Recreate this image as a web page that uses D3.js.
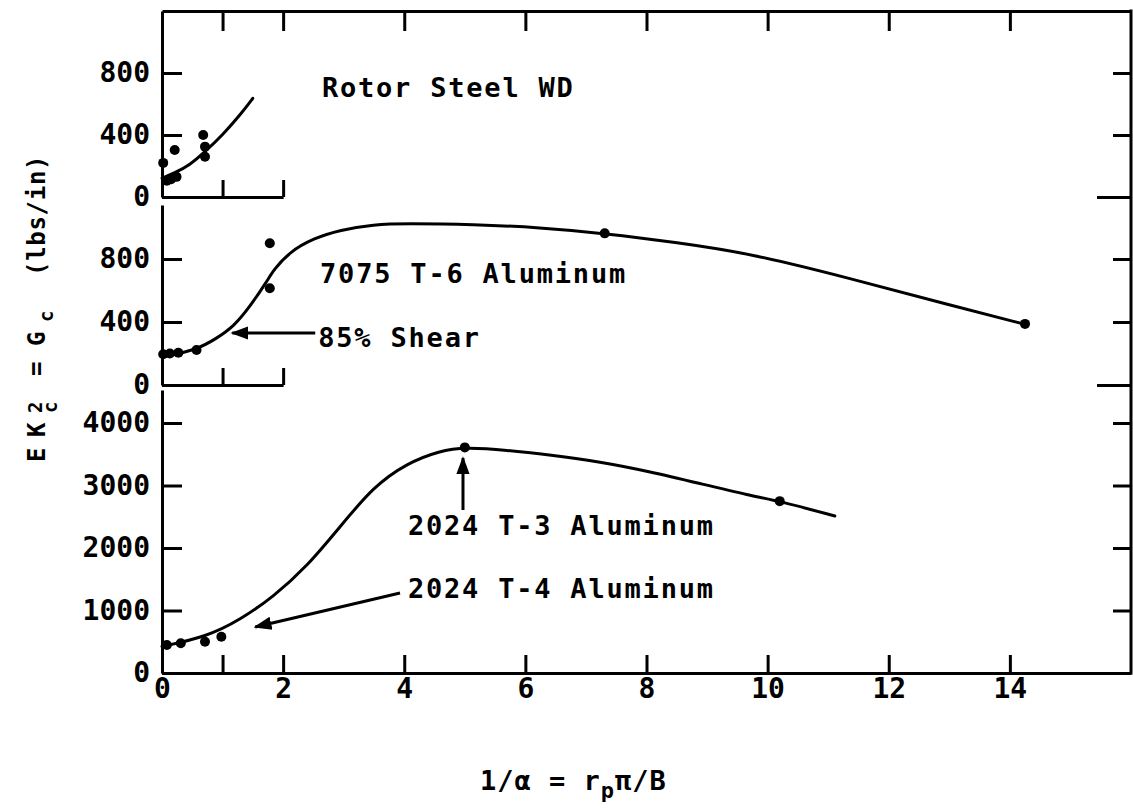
<!DOCTYPE html>
<html><head><meta charset="utf-8">
<script src="https://cdn.jsdelivr.net/npm/d3@7"></script>
<style>
html,body{margin:0;padding:0;background:#fff;}
svg{display:block;}
text{font-family:"DejaVu Sans Mono",monospace;font-weight:bold;fill:#000;}
</style></head><body>
<svg id="chart" width="1133" height="810"></svg>
<script>
// ---- data ----
const xTickValues = [0, 1, 2, 4, 6, 8, 10, 12, 14];
const xTickLabels = ["0", "", "2", "4", "6", "8", "10", "12", "14"];
const xTopTicks = [1, 2, 4, 6, 8, 10, 12, 14];
const smallBoxTicks = [1, 2];
const rotorTicks = [0, 400, 800];
const t6Ticks = [0, 400, 800];
const t3Ticks = [0, 1000, 2000, 3000, 4000];

const rotorDots = [[0.02,220],[0.08,105],[0.15,115],[0.24,130],[0.21,303],[0.68,400],[0.71,325],[0.71,260]];
const rotorCurve = [[0,122],[0.2,153],[0.46,206],[0.71,292],[1.0,400],[1.29,529],[1.5,637]];

const t6Dots = [[0.02,195],[0.13,200],[0.27,205],[0.57,222],[1.78,614],[1.78,900],[7.31,963],[14.25,388]];
const t6Curve = [[0,178],[0.57,222],[0.9,296],[1.18,370],[1.45,497],[1.73,656],[1.84,730],[2.11,846],[2.5,931],[2.94,984],[3.49,1020],[4.04,1026],[5.14,1020],[6.24,1000],[7.31,963],[8.5,905],[9.71,836],[11.36,677],[13.0,508],[14.25,385]];

const t3Dots = [[0.08,448],[0.31,475],[0.71,501],[0.98,581],[5.0,3610],[10.2,2750]];
const t3Curve = [[0,424],[0.74,581],[1.29,850],[1.84,1221],[2.39,1700],[2.94,2341],[3.49,2981],[4.04,3355],[4.59,3557],[5.0,3610],[5.69,3568],[6.41,3488],[7.23,3381],[8.06,3221],[8.88,3032],[9.71,2840],[10.2,2750],[11.11,2512]];

const labels = [
  {panel:"rotor", text:"Rotor Steel WD", x:2.64, y:645},
  {panel:"t6", text:"7075 T-6 Aluminum", x:2.61, y:648},
  {panel:"t6", text:"85% Shear", x:2.58, y:241},
  {panel:"t3", text:"2024 T-3 Aluminum", x:4.06, y:2208},
  {panel:"t3", text:"2024 T-4 Aluminum", x:4.06, y:1200}
];
const arrows = [
  {panel:"t6", from:[2.53,330], to:[1.16,330]},
  {panel:"t3", from:[4.97,2608], to:[4.97,3440]},
  {panel:"t3", from:[3.93,1280], to:[1.54,736]}
];

// ---- scales ----
const svg = d3.select("#chart");
const x = d3.scaleLinear().domain([0,16]).range([162,1131]);
const yS = {
  rotor: d3.scaleLinear().domain([0,1200]).range([197,11]),
  t6: d3.scaleLinear().domain([0,1143]).range([385,205]),
  t3: d3.scaleLinear().domain([0,4528]).range([673,390])
};
const SW = 3;

function styleAxis(g, fs){
  g.attr("font-size", null).attr("font-family", null);
  g.selectAll("path, line").attr("stroke", "#000").attr("stroke-width", SW);
  g.selectAll("text").attr("font-size", fs || 28).attr("fill", "#000");
}

// left axes
[["rotor", rotorTicks], ["t6", t6Ticks], ["t3", t3Ticks]].forEach(([k, ticks]) => {
  const g = svg.append("g").attr("transform", `translate(${x(0)},0)`)
    .call(d3.axisLeft(yS[k]).tickValues(ticks).tickSizeInner(-20).tickSizeOuter(0).tickPadding(12).tickFormat(d3.format("d")));
  styleAxis(g);
});

// right axes (short ticks)
[["rotor", [400,800]], ["t6", [400,800]], ["t3", [1000,2000,3000,4000]]].forEach(([k, ticks]) => {
  const g = svg.append("g").attr("transform", `translate(${x(16)},0)`)
    .call(d3.axisRight(yS[k]).tickValues(ticks).tickSizeInner(-18).tickSizeOuter(0).tickFormat(""));
  g.select(".domain").remove();
  styleAxis(g);
});
// right long ticks at panel zeros
["rotor", "t6"].forEach(k => {
  const g = svg.append("g").attr("transform", `translate(${x(16)},0)`)
    .call(d3.axisRight(yS[k]).tickValues([0]).tickSizeInner(-34).tickSizeOuter(0).tickFormat(""));
  g.select(".domain").remove();
  styleAxis(g);
});
// right frame
svg.append("line").attr("x1", x(16)).attr("x2", x(16))
  .attr("y1", yS.rotor.range()[1] - 1.5).attr("y2", yS.t3(0) + 1.5)
  .attr("stroke", "#000").attr("stroke-width", SW);

// bottom axis
{
  const g = svg.append("g").attr("transform", `translate(0,${yS.t3(0)})`)
    .call(d3.axisBottom(x).tickValues(xTickValues).tickSizeInner(-18).tickSizeOuter(0).tickPadding(5)
      .tickFormat((d, i) => xTickLabels[i]));
  styleAxis(g);
}
// top axis
{
  const g = svg.append("g").attr("transform", `translate(0,${yS.rotor.range()[1]})`)
    .call(d3.axisTop(x).tickValues(xTopTicks).tickSizeInner(-20).tickSizeOuter(0).tickFormat(""));
  styleAxis(g);
}
// small boxes for rotor and t6 panels
["rotor", "t6"].forEach(k => {
  const xs = x.copy().domain([0,2]).range([x(0), x(2)]);
  const g = svg.append("g").attr("transform", `translate(0,${yS[k](0)})`)
    .call(d3.axisBottom(xs).tickValues(smallBoxTicks).tickSizeInner(-17).tickSizeOuter(0).tickFormat(""));
  styleAxis(g);
});

// curves & dots
const series = [["rotor", rotorCurve, rotorDots], ["t6", t6Curve, t6Dots], ["t3", t3Curve, t3Dots]];
series.forEach(([k, curve, dots]) => {
  const y = yS[k];
  const line = d3.line().x(d => x(d[0])).y(d => y(d[1])).curve(d3.curveBasis);
  svg.append("path").datum(curve).attr("d", line)
    .attr("fill", "none").attr("stroke", "#000").attr("stroke-width", SW).attr("stroke-linecap", "round");
  svg.append("g").selectAll("circle").data(dots).join("circle")
    .attr("cx", d => x(d[0])).attr("cy", d => y(d[1])).attr("r", 5).attr("fill", "#000");
});

// arrows
svg.append("defs").append("marker").attr("id", "ah")
  .attr("viewBox", "0 0 10 10").attr("refX", 9).attr("refY", 5)
  .attr("markerWidth", 6).attr("markerHeight", 6).attr("orient", "auto")
  .append("path").attr("d", "M0,1.3L10,5L0,8.7Z").attr("fill", "#000");
svg.append("g").selectAll("line").data(arrows).join("line")
  .attr("x1", d => x(d.from[0])).attr("y1", d => yS[d.panel](d.from[1]))
  .attr("x2", d => x(d.to[0])).attr("y2", d => yS[d.panel](d.to[1]))
  .attr("stroke", "#000").attr("stroke-width", SW).attr("marker-end", "url(#ah)");

// annotation labels
svg.append("g").selectAll("text").data(labels).join("text")
  .attr("x", d => x(d.x)).attr("y", d => yS[d.panel](d.y))
  .attr("font-size", 27).attr("letter-spacing", 1.8)
  .text(d => d.text);

// y axis title
{
  const t = svg.append("text").attr("transform", "translate(45,462) rotate(-90)").attr("font-size", 24);
  t.append("tspan").attr("x", 0).attr("y", 0).text("E");
  t.append("tspan").attr("x", 25).attr("y", 0).text("K");
  t.append("tspan").attr("x", 49).attr("y", -3).attr("font-size", 19).text("2");
  t.append("tspan").attr("x", 49).attr("y", 12).attr("font-size", 19).text("c");
  t.append("tspan").attr("x", 86).attr("y", 0).text("=");
  t.append("tspan").attr("x", 116).attr("y", 0).text("G");
  t.append("tspan").attr("x", 140).attr("y", 8).attr("font-size", 19).text("c");
  t.append("tspan").attr("x", 186).attr("y", 0).attr("letter-spacing", 0.7).text("(lbs/in)");
}
// x axis title
{
  const t = svg.append("text").attr("x", 480).attr("y", 790).attr("font-size", 27).attr("letter-spacing", 1);
  t.append("tspan").text("1/α = r");
  t.append("tspan").attr("font-size", 22).attr("dy", 8).text("p");
  t.append("tspan").attr("dy", -8).text("π/B");
}
</script>
</body></html>
